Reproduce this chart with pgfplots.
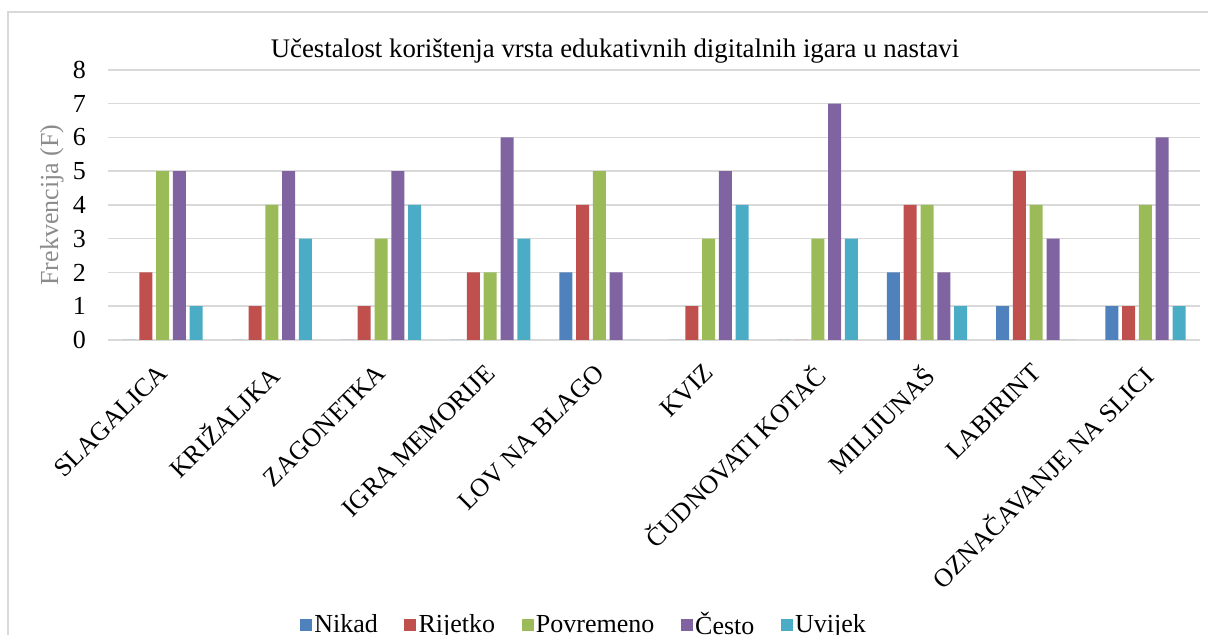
\documentclass[border=0pt]{standalone}
\usepackage{fontspec}
\setmainfont{Liberation Serif}
\usepackage{pgfplots}
\pgfplotsset{compat=1.18}
\definecolor{cNikad}{HTML}{4F81BD}
\definecolor{cRijetko}{HTML}{C0504D}
\definecolor{cPovremeno}{HTML}{9BBB59}
\definecolor{cCesto}{HTML}{8064A2}
\definecolor{cUvijek}{HTML}{4BACC6}
\definecolor{gridc}{HTML}{D9D9D9}
\begin{document}
\begin{tikzpicture}[x=1pt,y=1pt]
\useasboundingbox (0,0) rectangle (604,317.5);
\begin{scope}
\clip (0,0) rectangle (604,317.5);
\draw[color=gridc, line width=0.75pt] (4,311.5) rectangle (640,-20);
\end{scope}
\node[anchor=base, font=\fontsize{13.4}{13.4}\selectfont] at (307.5,288.5) {Učestalost korištenja vrsta edukativnih digitalnih igara u nastavi};
\begin{axis}[
  at={(54pt,147.5pt)}, anchor=south west,
  scale only axis, width=546pt, height=135pt,
  ybar=1.9pt, bar width=6.5pt,
  xmin=-0.5, xmax=9.5, ymin=0, ymax=8,
  xtick={0,...,9}, ytick={0,...,8},
  xticklabels={SLAGALICA,KRIŽALJKA,ZAGONETKA,IGRA MEMORIJE,LOV NA BLAGO,KVIZ,ČUDNOVATI KOTAČ,MILIJUNAŠ,LABIRINT,OZNAČAVANJE NA SLICI},
  xticklabel style={xshift=-3pt, yshift=-9.6pt, rotate=45, anchor=north east, font=\fontsize{13}{13}\selectfont, inner sep=1pt},
  yticklabel style={font=\fontsize{13}{13}\selectfont, xshift=-7.5pt},
  /pgf/number format/assume math mode=true,
  ymajorgrids, grid style={color=gridc, line width=0.75pt},
  axis line style={draw=none},
  major tick length=0pt,
  ylabel={Frekvencija (F)},
  ylabel style={at={(axis description cs:-0.0513,0.5)}, anchor=center, rotate=0, font=\fontsize{13}{13}\selectfont, color=black!45},
  legend style={draw=none, at={(axis description cs:0.436,-1.056)}, anchor=center, legend columns=-1, font=\fontsize{13}{13}\selectfont, /tikz/every even column/.append style={column sep=12pt}, inner sep=0pt, nodes={inner sep=1.2pt}},
  legend image code/.code={\fill[#1] (0pt,-3pt) rectangle (6pt,3pt);},
  every axis plot/.append style={draw=none},
]
\addplot[fill=cNikad] coordinates {(0,0) (1,0) (2,0) (3,0) (4,2) (5,0) (6,0) (7,2) (8,1) (9,1)};
\addplot[fill=cRijetko] coordinates {(0,2) (1,1) (2,1) (3,2) (4,4) (5,1) (6,0) (7,4) (8,5) (9,1)};
\addplot[fill=cPovremeno] coordinates {(0,5) (1,4) (2,3) (3,2) (4,5) (5,3) (6,3) (7,4) (8,4) (9,4)};
\addplot[fill=cCesto] coordinates {(0,5) (1,5) (2,5) (3,6) (4,2) (5,5) (6,7) (7,2) (8,3) (9,6)};
\addplot[fill=cUvijek] coordinates {(0,1) (1,3) (2,4) (3,3) (4,0) (5,4) (6,3) (7,1) (8,0) (9,1)};
\legend{Nikad,Rijetko,Povremeno,Često,Uvijek}
\end{axis}
\end{tikzpicture}
\end{document}
